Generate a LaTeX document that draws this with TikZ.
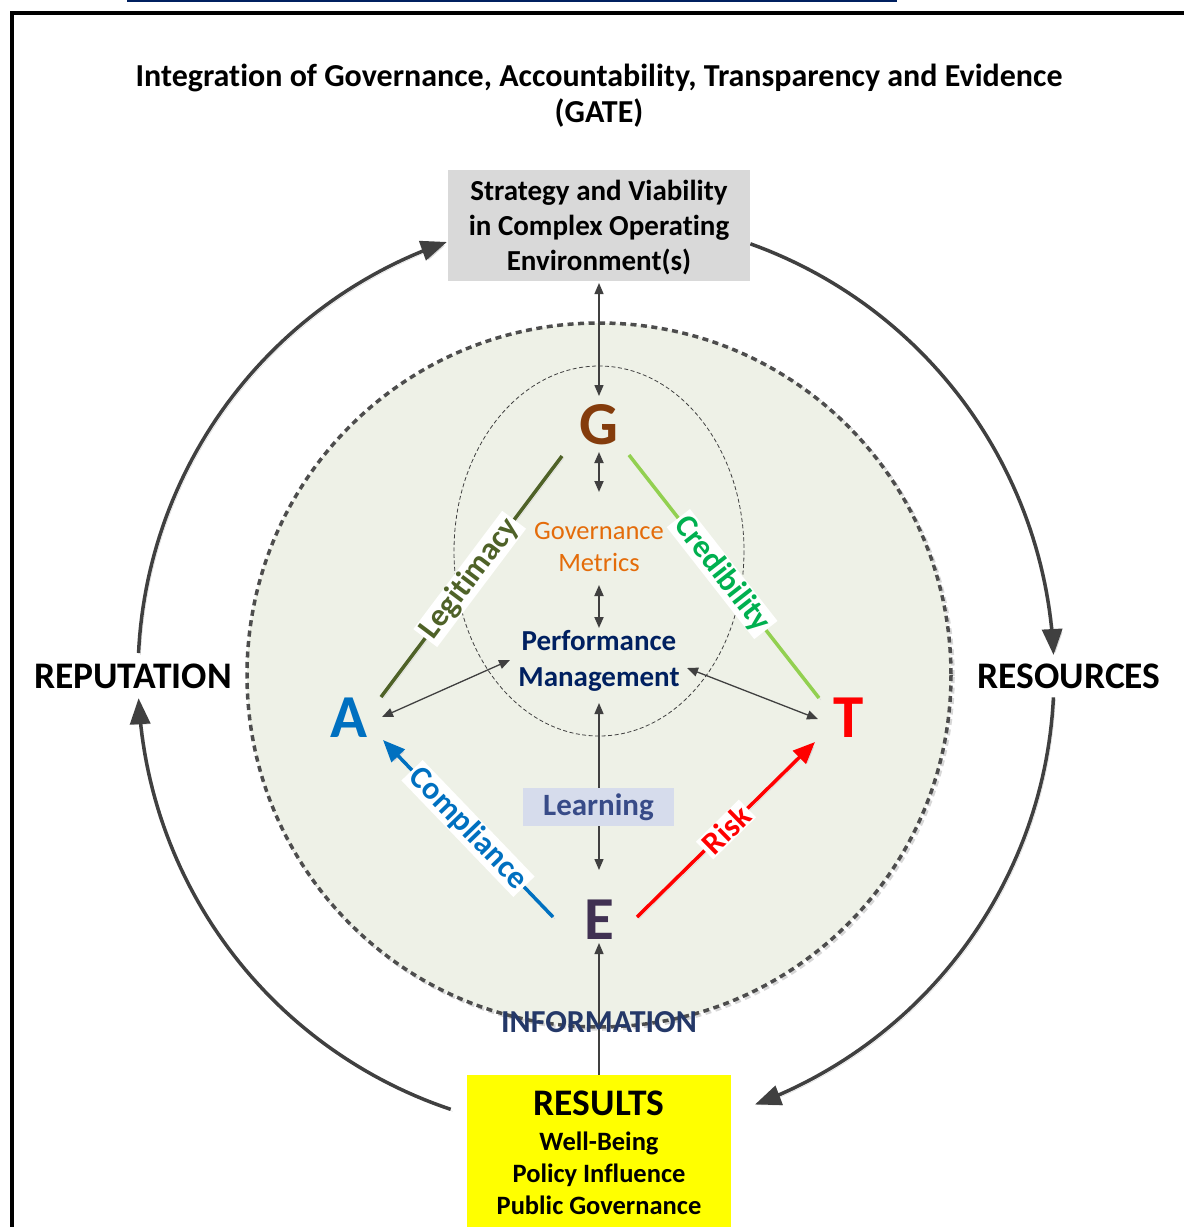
\documentclass[tikz,border=0pt]{standalone}
\usepackage{fontspec}
\setmainfont{Carlito}[Ligatures={NoCommon,NoRare,NoContextual}]
\usetikzlibrary{arrows.meta,calc}

\definecolor{ringfill}{RGB}{238,241,231}
\definecolor{ringline}{RGB}{77,77,77}
\definecolor{arcgray}{RGB}{64,64,64}
\definecolor{boxgray}{RGB}{217,217,217}
\definecolor{gbrown}{RGB}{132,60,12}
\definecolor{ablue}{RGB}{0,112,192}
\definecolor{tred}{RGB}{255,0,0}
\definecolor{epurple}{RGB}{64,49,82}
\definecolor{legolive}{RGB}{79,98,40}
\definecolor{credlight}{RGB}{146,208,80}
\definecolor{credtext}{RGB}{0,176,80}
\definecolor{govorange}{RGB}{228,108,10}
\definecolor{pmnavy}{RGB}{0,32,96}
\definecolor{learnfill}{RGB}{214,220,236}
\definecolor{learntext}{RGB}{56,75,136}
\definecolor{infonavy}{RGB}{36,56,104}
\definecolor{linknavy}{RGB}{0,32,96}
\definecolor{resyellow}{RGB}{255,255,0}
\definecolor{shade}{RGB}{215,215,215}

\newcommand\setsz[2]{\fontsize{#1}{#2}\selectfont}

\begin{document}
\begin{tikzpicture}[x=1pt,y=-1pt,
  letter/.style={inner sep=0pt, font=\bfseries\setsz{61}{61}},
  softshadow/.style={preaction={draw=shade, transform canvas={shift={(2pt,-2pt)}}}},
  twoway/.style={draw=arcgray, line width=1.3pt,
    arrows={Triangle[length=11pt,width=9pt]-Triangle[length=11pt,width=9pt]}},
  oneway/.style={draw=arcgray, line width=1.3pt,
    arrows={-Triangle[length=11pt,width=9pt]}},
  bigarc/.style={softshadow, draw=arcgray, line width=3.5pt,
    arrows={-Triangle[length=26pt,width=20pt]}},
  side/.style={softshadow, line width=3.5pt},
  edgelabel/.style={sloped, fill=white, inner xsep=3pt, inner ysep=1pt,
    font=\bfseries\setsz{32}{32}},
  sidelabel/.style={font=\bfseries\setsz{37.5}{37.5}, inner sep=0pt},
]
\useasboundingbox (0,0) rectangle (1184,1227);

% frame and caption rule
\draw[linknavy, line width=2pt] (127,1) -- (897,1);
\draw[black, line width=4pt, line join=miter] (12,1240) -- (12,13) -- (1200,13);

% title
\node[font=\bfseries\setsz{32}{36}, align=center] (title) at (599,96)
  {Integration of Governance, Accountability, Transparency and Evidence\\(GATE)};

% central ring and inner ellipse
\draw[ringline, line width=3.5pt, dash pattern=on 6pt off 4.5pt, fill=ringfill,
  preaction={draw=shade, line width=3.5pt, dash pattern=on 6pt off 4.5pt,
    transform canvas={shift={(2pt,-2pt)}}}]
  (599,675) circle[radius=352];
\draw[arcgray, line width=0.8pt, dash pattern=on 4pt off 2.5pt]
  (599,551) ellipse[x radius=145, y radius=185];

% outer cycle arcs
\draw[bigarc] plot[domain=182.75:251, samples=60, variable=\t]
  ({596+458*cos(\t)},{675+458*sin(\t)});
\draw[bigarc] plot[domain=108.5:177.1, samples=60, variable=\t]
  ({596+458*cos(\t)},{675+458*sin(\t)});
\draw[bigarc] plot[domain=-70.3:-2.5, samples=60, variable=\t]
  ({596+458*cos(\t)},{675+458*sin(\t)});
\draw[bigarc] plot[domain=2.8:69.7, samples=60, variable=\t]
  ({596+458*cos(\t)},{675+458*sin(\t)});

% boxes
\node[fill=boxgray, minimum width=302, minimum height=111, inner sep=0pt] (sv) at (599,225.5) {};
\node[font=\bfseries\setsz{29}{35}, align=center, inner sep=0pt] (svT) at (599,227.5)
  {Strategy and Viability\\in Complex Operating\\Environment(s)};
\node[fill=resyellow, minimum width=264, minimum height=160, inner sep=0pt] (res) at (599,1155) {};
\node[font=\bfseries\setsz{37.5}{37.5}, inner sep=0pt] (resT) at (599,1103) {RESULTS};
\node[font=\bfseries\setsz{26.5}{32}, align=center, inner sep=0pt] (resL) at (599,1173)
  {Well-Being\\Policy Influence\\Public Governance};

% GATE letters
\node[letter, text=gbrown] (G) at (599,425) {G};
\node[letter, text=ablue] (A) at (349,718) {A};
\node[letter, text=tred] (T) at (849,718) {T};
\node[letter, text=epurple] (E) at (599,920) {E};

% inner texts
\node[font=\setsz{26.5}{32}, text=govorange, align=center, inner sep=0pt] (gm) at (599,547)
  {Governance\\Metrics};
\node[font=\bfseries\setsz{29}{36}, text=pmnavy, align=center, inner sep=0pt] (pm) at (599,661)
  {Performance\\Management};

% anchor points of the connectors
\coordinate (svB) at (599,283);  \coordinate (gT) at (599,396);
\coordinate (gB) at (599,452);   \coordinate (gmT) at (599,492);
\coordinate (gmB) at (599,585);  \coordinate (pmT) at (599,628);
\coordinate (pmB) at (599,703);  \coordinate (eT) at (599,870);
\coordinate (eB) at (599,943);
\coordinate (pmL) at (510,660);  \coordinate (aR) at (382,717);
\coordinate (pmR) at (687,668);  \coordinate (tL) at (818,719);
\coordinate (legA) at (381,697); \coordinate (legG) at (562,456);
\coordinate (credG) at (629,455);\coordinate (credT) at (819,698);
\coordinate (compE) at (553,917);\coordinate (compA) at (383,740);
\coordinate (riskE) at (637,917);\coordinate (riskT) at (815,742);

% vertical links
\draw[twoway] (svB) -- (gT);
\draw[twoway, line width=1.8pt] (gB) -- (gmT);
\draw[twoway, line width=1.8pt] (gmB) -- (pmT);
\draw[twoway] (pmB) -- (eT);
\draw[oneway] (res.north) -- (eB);
\draw[twoway] (pmL) -- (aR);
\draw[twoway] (pmR) -- (tL);

% learning tag over the vertical link
\node[fill=learnfill, minimum width=151, minimum height=38, inner sep=0pt,
  font=\bfseries\setsz{31}{31}, text=learntext] (learn) at (598.5,807) {Learning};

% sides of the diamond
\draw[side, legolive] (legA) -- node[edgelabel, pos=0.49, text=legolive] {Legitimacy} (legG);
\draw[side, credlight] (credG) -- node[edgelabel, pos=0.49, text=credtext] {Credibility} (credT);
\draw[side, ablue, arrows={-Triangle[length=22pt,width=18pt]}]
  (compE) -- node[edgelabel, pos=0.5, text=ablue] {Compliance} (compA);
\draw[side, tred, arrows={-Triangle[length=22pt,width=18pt]}]
  (riskE) -- node[edgelabel, pos=0.5, text=tred] {Risk} (riskT);

% outer labels
\node[sidelabel] (rep) at (133,676) {REPUTATION};
\node[sidelabel] (rsc) at (1069,676) {RESOURCES};
\node[font=\bfseries\setsz{32}{32}, text=infonavy, inner sep=0pt] (info) at (599,1022) {INFORMATION};
\end{tikzpicture}
\end{document}
